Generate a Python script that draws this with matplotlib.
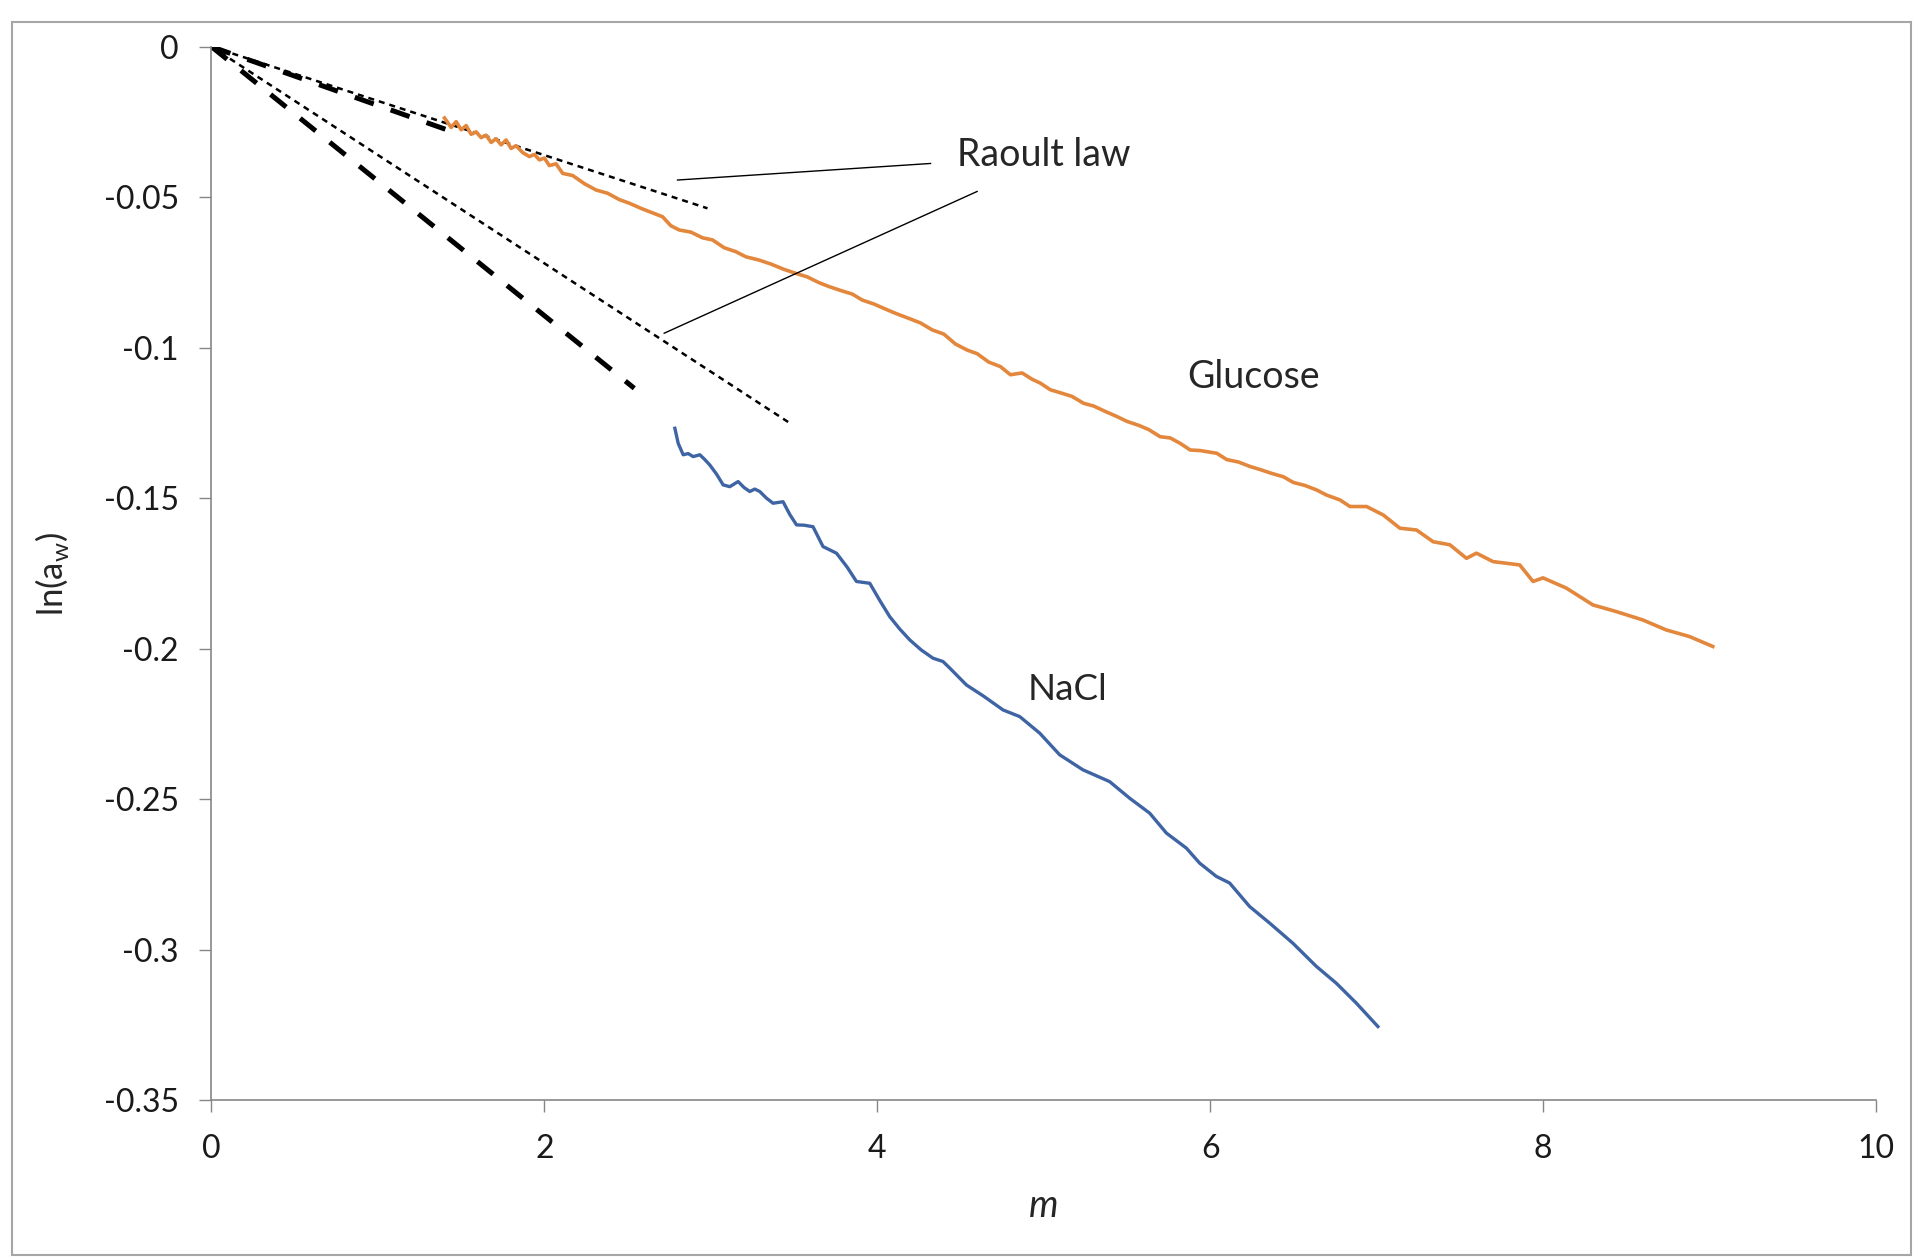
# plot_water_activity.py
import matplotlib.pyplot as plt
from matplotlib.patches import Rectangle

# ln(a_w) gegen Molalität m
glucose_m = [1.40, 1.44, 1.47, 1.50, 1.53, 1.56, 1.59, 1.62, 1.65, 1.68, 1.71, 1.74,
             1.77, 1.80, 1.83, 1.87, 1.91, 1.94, 1.97, 2.00, 2.03, 2.07, 2.11,
             2.17, 2.24, 2.31, 2.38, 2.45, 2.51, 2.58, 2.64, 2.71, 2.76, 2.81, 2.88,
             2.95, 3.01, 3.08, 3.15, 3.21, 3.29, 3.36, 3.44, 3.51, 3.58, 3.65, 3.71,
             3.78, 3.85, 3.91, 3.98, 4.05, 4.11, 4.20, 4.26, 4.33, 4.40, 4.47, 4.54,
             4.60, 4.67, 4.74, 4.80, 4.87, 4.93, 4.98, 5.04, 5.10, 5.17, 5.24, 5.30,
             5.37, 5.44, 5.50, 5.57, 5.63, 5.70, 5.76, 5.82, 5.88, 5.94, 6.04, 6.10,
             6.17, 6.24, 6.30, 6.37, 6.44, 6.50, 6.57, 6.64, 6.70, 6.78, 6.84, 6.94,
             7.04, 7.14, 7.24, 7.34, 7.44, 7.54, 7.60, 7.70, 7.86, 7.94, 8.00, 8.14,
             8.30, 8.44, 8.60, 8.74, 8.88, 9.02]
glucose_lnaw = [-0.0237, -0.0268, -0.0249, -0.0276, -0.0262, -0.0291, -0.0283, -0.0302,
                -0.0294, -0.0318, -0.0306, -0.0326, -0.0310, -0.0338, -0.0329, -0.0352,
                -0.0365, -0.0358, -0.0376, -0.0370, -0.0395, -0.0389, -0.0421,
                -0.0428, -0.0455, -0.0476, -0.0487,
                -0.0508, -0.0520, -0.0537, -0.0550, -0.0565, -0.0595, -0.0609, -0.0616,
                -0.0635, -0.0642, -0.0668, -0.0681, -0.0698, -0.0709, -0.0722, -0.0740,
                -0.0753, -0.0765, -0.0784, -0.0797, -0.0810, -0.0822, -0.0842, -0.0855,
                -0.0872, -0.0886, -0.0905, -0.0918, -0.0941, -0.0955, -0.0988, -0.1008,
                -0.1020, -0.1048, -0.1063, -0.1090, -0.1084, -0.1105, -0.1118, -0.1140,
                -0.1150, -0.1162, -0.1185, -0.1194, -0.1212, -0.1229, -0.1245, -0.1258,
                -0.1272, -0.1296, -0.1300, -0.1318, -0.1340, -0.1342, -0.1351, -0.1372,
                -0.1380, -0.1395, -0.1405, -0.1418, -0.1429, -0.1448, -0.1458, -0.1473,
                -0.1490, -0.1506, -0.1528, -0.1528, -0.1556, -0.1600, -0.1606, -0.1645,
                -0.1655, -0.1700, -0.1683, -0.1711, -0.1722, -0.1777, -0.1765, -0.1799,
                -0.1855, -0.1877, -0.1905, -0.1938, -0.1960, -0.1993]

nacl_m = [2.784, 2.804, 2.834, 2.864, 2.894, 2.934, 2.964, 2.994, 3.034, 3.074, 3.114,
          3.164, 3.200, 3.234, 3.264, 3.294, 3.334, 3.374, 3.434, 3.475, 3.515, 3.560,
          3.614, 3.674, 3.755, 3.820, 3.875, 3.955, 4.015, 4.075, 4.135, 4.195, 4.265,
          4.335, 4.395, 4.436, 4.536, 4.636, 4.756, 4.856, 4.976, 5.096, 5.236, 5.396,
          5.516, 5.637, 5.737, 5.857, 5.937, 6.037, 6.117, 6.237, 6.357, 6.497, 6.638,
          6.758, 6.878, 7.008]
nacl_lnaw = [-0.1268, -0.1318, -0.1356, -0.1352, -0.1362, -0.1356, -0.1372, -0.1390,
             -0.1420, -0.1456, -0.1462, -0.1445, -0.1465, -0.1478, -0.1470, -0.1478,
             -0.1500, -0.1517, -0.1512, -0.1555, -0.1589, -0.1590, -0.1595, -0.1661,
             -0.1683, -0.1730, -0.1777, -0.1783, -0.1840, -0.1894, -0.1935, -0.1971,
             -0.2005, -0.2032, -0.2043, -0.2065, -0.2121, -0.2157, -0.2204, -0.2226,
             -0.2281, -0.2353, -0.2403, -0.2442, -0.2497, -0.2547, -0.2613, -0.2663,
             -0.2713, -0.2757, -0.2779, -0.2857, -0.2912, -0.2979, -0.3056, -0.3112,
             -0.3178, -0.3256]

# Raoult-Geraden (dünn) und Anfangssteigungen (dick)
raoult_glucose_m = [0.0, 2.98]
raoult_glucose_lnaw = [0.0, -0.0537]
raoult_nacl_m = [0.0, 3.47]
raoult_nacl_lnaw = [0.0, -0.1249]
init_glucose_m = [0.0, 1.45]
init_glucose_lnaw = [0.0, -0.0283]
init_nacl_m = [0.0, 2.54]
init_nacl_lnaw = [0.0, -0.1135]

# Beschriftungen
x_ticks = [0, 2, 4, 6, 8, 10]
y_ticks = [0, -0.05, -0.1, -0.15, -0.2, -0.25, -0.3, -0.35]
y_ticklabels = ["0", "-0.05", "-0.1", "-0.15", "-0.2", "-0.25", "-0.3", "-0.35"]


def main():
    plt.rcParams["font.family"] = ["Lato", "DejaVu Sans"]

    fig = plt.figure(figsize=(19.14, 12.59), dpi=100)
    ax = fig.add_axes([0.1105, 0.1263, 0.8696, 0.8366])

    axis_grey = "#868686"
    text_col = "#262626"

    # Raoult-Linien
    ax.plot(init_nacl_m, init_nacl_lnaw, color="black", lw=3.6,
            dashes=(4.0, 3.6), dash_capstyle="butt")
    ax.plot(init_glucose_m, init_glucose_lnaw, color="black", lw=3.6,
            dashes=(4.0, 3.6), dash_capstyle="butt")
    ax.plot(raoult_nacl_m, raoult_nacl_lnaw, color="black", lw=1.8, dashes=(2.4, 2.0))
    ax.plot(raoult_glucose_m, raoult_glucose_lnaw, color="black", lw=1.8, dashes=(2.4, 2.0))

    # Messkurven
    ax.plot(glucose_m, glucose_lnaw, color="#E3873D", lw=2.6)
    ax.plot(nacl_m, nacl_lnaw, color="#3E64A4", lw=2.4)

    # Hinweislinien "Raoult law"
    ax.plot([2.80, 4.32], [-0.0443, -0.0388], color="black", lw=1.0)
    ax.plot([2.72, 4.60], [-0.0952, -0.0481], color="black", lw=1.0)

    ax.text(4.48, -0.0360, "Raoult law", fontsize=27, va="center", ha="left", color=text_col)
    ax.text(5.865, -0.1096, "Glucose", fontsize=27, va="center", ha="left", color=text_col)
    ax.text(4.906, -0.2137, "NaCl", fontsize=26.5, va="center", ha="left", color=text_col)

    # Achsen
    ax.set_xlim(0, 10)
    ax.set_ylim(-0.35, 0)
    ax.set_xticks(x_ticks)
    ax.set_yticks(y_ticks)
    ax.set_yticklabels(y_ticklabels)
    for side in ("top", "right"):
        ax.spines[side].set_visible(False)
    for side in ("left", "bottom"):
        ax.spines[side].set_color(axis_grey)
        ax.spines[side].set_linewidth(1.2)
    ax.tick_params(axis="both", direction="out", length=8.5, width=1.0,
                   color=axis_grey, labelsize=23, labelcolor="#1a1a1a")
    ax.tick_params(axis="y", pad=15)
    ax.tick_params(axis="x", pad=16)

    ax.set_ylabel(r"ln(a$_\mathregular{w}$)", fontsize=25, color=text_col)
    ax.yaxis.set_label_coords(-0.0844, 0.5)
    ax.set_xlabel("m", fontsize=27, style="italic", color=text_col)
    ax.xaxis.label.set_va("center")
    ax.xaxis.set_label_coords(0.5, -0.1006)

    # Rahmen um das Diagramm
    fig.patches.append(Rectangle((0.0063, 0.0032), 0.9922, 0.9793, transform=fig.transFigure,
                                 fill=False, edgecolor="#A6A6A6", lw=1.5))

    fig.savefig("out.png", dpi=100, facecolor="white")


if __name__ == "__main__":
    main()
